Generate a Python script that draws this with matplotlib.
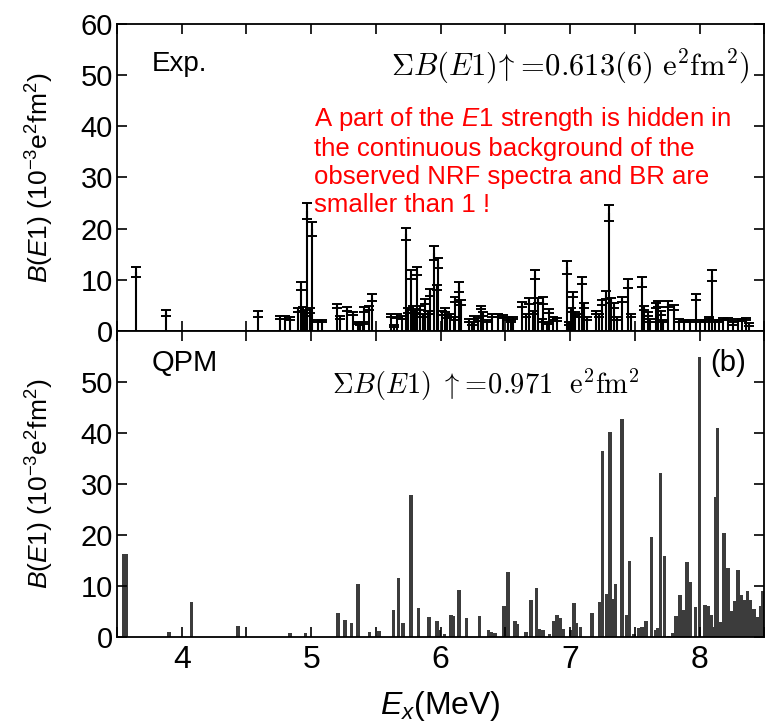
import matplotlib
matplotlib.use("Agg")
import matplotlib.pyplot as plt
from matplotlib.ticker import MultipleLocator

plt.rcParams['font.family'] = ['Liberation Sans', 'DejaVu Sans']
plt.rcParams['mathtext.fontset'] = 'custom'
plt.rcParams['mathtext.rm'] = 'Liberation Sans'
plt.rcParams['mathtext.it'] = 'Liberation Sans:italic'

# ---- Experimental data (Ex in MeV, B(E1) in 1e-3 e^2fm^2, error) ----
exp_E = [3.65, 3.88, 4.59, 4.76, 4.80, 4.84, 4.90, 4.92, 4.94, 4.95, 4.97, 4.99,
         5.01, 5.05, 5.08, 5.20, 5.22, 5.28, 5.32, 5.36, 5.38, 5.40, 5.41, 5.45,
         5.47, 5.62, 5.64, 5.66, 5.70, 5.73, 5.75, 5.77, 5.79, 5.80, 5.82, 5.84,
         5.86, 5.88, 5.90, 5.92, 5.945, 5.97, 5.98, 6.01, 6.03, 6.05, 6.07, 6.10,
         6.11, 6.14, 6.16, 6.22, 6.24, 6.26, 6.29, 6.31, 6.33, 6.36, 6.40, 6.44,
         6.48, 6.52, 6.54, 6.56, 6.63, 6.66, 6.68, 6.71, 6.73, 6.75, 6.78, 6.79,
         6.82, 6.84, 6.87, 6.90, 6.975, 6.99, 7.01, 7.02, 7.04, 7.07, 7.09, 7.11,
         7.13, 7.20, 7.22, 7.25, 7.28, 7.30, 7.32, 7.34, 7.36, 7.40, 7.45, 7.47,
         7.555, 7.57, 7.60, 7.62, 7.66, 7.68, 7.70, 7.72, 7.76, 7.80, 7.84, 7.88,
         7.93, 7.97, 8.00, 8.04, 8.07, 8.10, 8.12, 8.15, 8.18, 8.22, 8.26, 8.30,
         8.33, 8.36, 8.38]
exp_B = [11.5, 3.5, 3.3, 2.6, 2.6, 2.5, 4.0, 8.7, 4.3, 3.5, 23.4, 4.0,
         19.9, 2.0, 2.0, 4.85, 2.6, 4.2, 3.4, 1.5, 1.3, 1.5, 4.1, 4.4,
         6.5, 3.0, 1.0, 2.9, 2.6, 19.0, 4.0, 11.0, 4.5, 3.8, 11.7, 4.4,
         3.0, 5.7, 3.5, 7.5, 15.2, 8.5, 13.2, 3.5, 4.0, 2.8, 3.0, 2.5,
         6.2, 8.5, 5.5, 2.0, 1.5, 2.7, 2.3, 4.6, 3.3, 2.0, 3.0, 3.0,
         2.8, 2.5, 1.9, 2.5, 5.1, 3.0, 5.8, 3.5, 11.0, 6.0, 2.0, 5.9,
         1.5, 3.8, 2.5, 2.3, 12.4, 1.5, 4.0, 7.1, 3.3, 3.0, 9.85, 5.0,
         2.5, 3.5, 3.0, 5.6, 7.0, 23.0, 6.0, 5.0, 2.5, 6.2, 9.3, 3.0,
         9.5, 4.5, 3.3, 2.0, 4.9, 5.3, 3.5, 2.0, 5.3, 4.5, 2.0, 2.0,
         2.0, 6.6, 2.0, 2.0, 2.5, 10.8, 2.0, 2.0, 2.3, 2.3, 1.5, 2.2,
         2.2, 2.4, 1.2]
exp_err = [1.0, 0.6, 0.5, 0.3, 0.3, 0.3, 0.4, 0.8, 0.4, 0.5, 1.6, 0.5,
           1.4, 0.2, 0.2, 0.45, 0.3, 0.4, 0.3, 0.2, 0.2, 0.2, 0.5, 0.4,
           0.7, 0.3, 0.2, 0.4, 0.3, 1.2, 0.5, 0.8, 0.4, 0.4, 0.7, 0.4,
           0.3, 0.5, 0.3, 0.6, 1.4, 0.5, 1.0, 0.4, 0.4, 0.3, 0.3, 0.3,
           0.5, 1.0, 0.5, 0.3, 0.3, 0.3, 0.3, 0.3, 0.3, 0.2, 0.3, 0.3,
           0.3, 0.3, 0.2, 0.2, 0.5, 0.3, 0.6, 0.3, 0.8, 0.5, 0.3, 0.7,
           0.2, 0.4, 0.3, 0.3, 1.2, 0.3, 0.4, 0.5, 0.3, 0.3, 0.65, 0.5,
           0.3, 0.3, 0.3, 0.5, 0.8, 1.6, 0.5, 0.5, 0.3, 0.5, 0.9, 0.3,
           1.0, 0.4, 0.3, 0.3, 0.5, 0.6, 0.4, 0.2, 0.6, 0.5, 0.3, 0.2,
           0.2, 0.6, 0.2, 0.2, 0.2, 1.0, 0.2, 0.2, 0.2, 0.2, 0.3, 0.2,
           0.2, 0.2, 0.3]

# ---- QPM data ----
qpm_E = [3.55, 3.57, 3.90, 4.075, 4.435, 4.835, 4.955, 5.205, 5.26, 5.31, 5.36,
         5.45, 5.525, 5.635, 5.675, 5.71, 5.77, 5.83, 5.91, 5.97, 5.99, 6.03,
         6.08, 6.10, 6.14, 6.20, 6.30, 6.37, 6.39, 6.42, 6.49, 6.52, 6.575,
         6.595, 6.66, 6.70, 6.74, 6.765, 6.79, 6.84, 6.875, 6.90, 6.925, 6.95,
         7.005, 7.03, 7.05, 7.08, 7.17, 7.23, 7.25, 7.28, 7.31, 7.335, 7.35,
         7.40, 7.44, 7.46, 7.495, 7.53, 7.555, 7.585, 7.63, 7.66, 7.675, 7.70,
         7.73, 7.76, 7.79, 7.82, 7.85, 7.88, 7.905, 7.93, 7.97, 8.00, 8.04,
         8.07, 8.09, 8.11, 8.125, 8.14, 8.165, 8.19, 8.22, 8.245, 8.27, 8.295,
         8.32, 8.345, 8.37, 8.395, 8.42, 8.445, 8.47, 8.49]
qpm_B = [16.2, 16.2, 1.1, 6.9, 2.2, 0.9, 0.9, 4.7, 3.4, 2.8, 10.5,
         1.0, 1.2, 5.4, 11.5, 2.7, 27.8, 5.8, 4.0, 3.1, 1.4, 0.6,
         4.4, 4.1, 9.2, 3.7, 4.1, 1.4, 1.0, 0.8, 6.0, 12.7, 3.1,
         2.6, 1.0, 7.3, 9.6, 1.6, 1.3, 0.6, 3.1, 4.4, 3.8, 1.6,
         1.3, 6.7, 2.7, 1.9, 4.7, 6.9, 36.4, 8.5, 40.2, 7.5, 10.5,
         42.8, 4.4, 15.0, 0.6, 1.7, 2.0, 3.1, 19.7, 1.4, 1.7, 32.2,
         15.8, 0.2, 0.8, 4.1, 8.2, 5.4, 14.7, 10.8, 5.9, 54.9, 6.2,
         6.0, 4.3, 1.9, 27.5, 40.9, 2.9, 20.4, 13.6, 5.1, 7.1, 13.1,
         8.3, 7.3, 9.0, 7.2, 5.5, 4.0, 6.0, 9.0]

x_ticks = [4, 5, 6, 7, 8]
y_ticks_top = [0, 10, 20, 30, 40, 50, 60]
y_ticks_bot = [0, 10, 20, 30, 40, 50]

fig = plt.figure(figsize=(7.65, 7.24), dpi=100)
ax1 = fig.add_axes([0.153, 0.543, 0.846, 0.424])
ax2 = fig.add_axes([0.153, 0.120, 0.846, 0.423], sharex=ax1)

# top: experiment
ax1.vlines(exp_E, 0, exp_B, color='black', lw=1.5)
ax1.errorbar(exp_E, exp_B, yerr=exp_err, fmt='none', ecolor='black',
             elinewidth=1.5, capsize=3.6, capthick=1.4)

# bottom: QPM
ax2.bar(qpm_E, qpm_B, width=0.028, color='#3c3c3c', linewidth=0)

for ax in (ax1, ax2):
    ax.set_xlim(3.5, 8.5)
    ax.set_ylim(0, 60)
    ax.xaxis.set_major_locator(MultipleLocator(1))
    ax.xaxis.set_minor_locator(MultipleLocator(0.5))
    ax.tick_params(which='both', direction='in', top=True, right=True,
                   length=7, width=1.2)
    ax.tick_params(axis='y', labelsize=21, pad=3)
    ax.tick_params(axis='x', labelsize=23, pad=6)
    for s in ax.spines.values():
        s.set_linewidth(1.3)

ax1.set_yticks(y_ticks_top)
ax2.set_yticks(y_ticks_bot)
ax1.tick_params(axis='x', labelbottom=False)
ax2.set_xticks(x_ticks)

ylab = r'$\mathit{B}(\mathit{E}1)\ (10^{-3}\mathrm{e}^{2}\mathrm{fm}^{2})$'
ax1.set_ylabel(ylab, fontsize=19)
ax2.set_ylabel(ylab, fontsize=19)
ax1.yaxis.set_label_coords(-0.095, 0.5)
ax2.yaxis.set_label_coords(-0.095, 0.5)
ax2.set_xlabel(r'$\mathit{E}_{x}$(MeV)', fontsize=23, labelpad=10)

ax1.text(0.054, 0.87, 'Exp.', transform=ax1.transAxes, fontsize=20,
         va='center', ha='left')
ax2.text(0.054, 0.895, 'QPM', transform=ax2.transAxes, fontsize=21,
         va='center', ha='left')
ax2.text(0.916, 0.895, '(b)', transform=ax2.transAxes, fontsize=21,
         va='center', ha='left')

ax1.text(0.978, 0.86,
         r'$\Sigma B(E1)\!\uparrow\!=\!0.613(6)\ \mathrm{e^2fm^2})$',
         transform=ax1.transAxes, fontsize=22, va='center', ha='right',
         math_fontfamily='cm')
ax2.text(0.332, 0.825,
         r'$\Sigma B(E1)\ \uparrow\!=\!0.971\ \ \mathrm{e^2fm^2}$',
         transform=ax2.transAxes, fontsize=20.5, va='center', ha='left',
         math_fontfamily='cm')

ax1.text(0.304, 0.735,
         'A part of the $\\mathit{E}$1 strength is hidden in\n'
         'the continuous background of the\n'
         'observed NRF spectra and BR are\n'
         'smaller than 1 !',
         transform=ax1.transAxes, fontsize=18.5, color='#ff0000',
         va='top', ha='left', linespacing=1.2)

fig.savefig('out.png', dpi=100)
